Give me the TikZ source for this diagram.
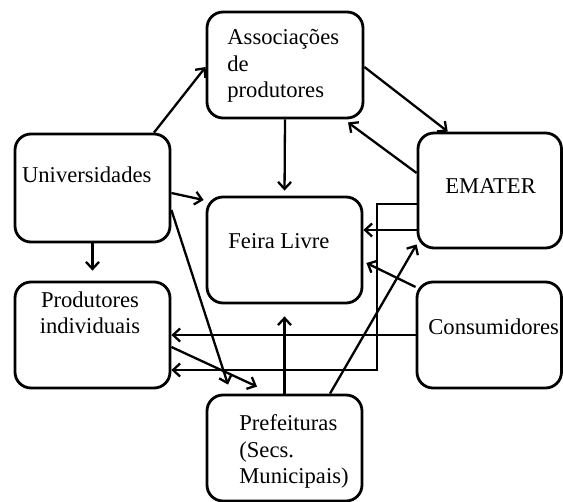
\documentclass[tikz,border=0pt]{standalone}
\usepackage{fontspec}
\setmainfont{Liberation Serif}
\usetikzlibrary{arrows.meta,calc,positioning}

\begin{document}
\begin{tikzpicture}[x=0.5pt, y=-0.5pt,
        box/.style={draw, line width=1.4pt, rounded corners=8pt, inner sep=0pt},
        txt/.style={inner sep=0pt, font=\fontsize{11.3}{13.4}\selectfont, align=left},
        arr/.style={line width=1.15pt, -{Straight Barb[length=3.5pt,width=6.5pt]}}]
    \useasboundingbox (0,0) rectangle (563,502);

    % caixas
    \node[box, minimum width=78pt, minimum height=53pt] (assoc) at (285,65) {};
    \node[box, minimum width=77.5pt, minimum height=54pt] (univ) at (92.5,188) {};
    \node[box, minimum width=71.75pt, minimum height=57.5pt] (emater) at (489.75,190.5) {};
    \node[box, minimum width=77.5pt, minimum height=53pt] (feira) at (284.5,250) {};
    \node[box, minimum width=77.5pt, minimum height=53pt] (prod) at (92.5,335) {};
    \node[box, minimum width=72.25pt, minimum height=53pt] (cons) at (489.25,335) {};
    \node[box, minimum width=77.5pt, minimum height=53pt] (pref) at (284.5,448) {};

    % textos (base = ultima linha)
    \node[txt, anchor=base west] (assoc-t) at (227,98) {Associações\\de\\produtores};
    \node[txt, anchor=base west] (univ-t) at (21.7,183) {Universidades};
    \node[txt, anchor=base west] (emater-t) at (445,194) {EMATER};
    \node[txt, anchor=base west] (feira-t) at (228,249) {Feira Livre};
    \node[txt, anchor=base, align=center] (prod-t) at (90,334) {Produtores\\individuais};
    \node[txt, anchor=base west] (cons-t) at (428,335) {Consumidores};
    \node[txt, anchor=base west] (pref-t) at (239,484) {Prefeituras\\(Secs.\\Municipais)};

    % ligacoes
    \coordinate (turn) at (377,370);
    \draw[arr] ($(univ.north)+(61.5,0)$) -- ($(assoc.west)+(0,2)$);
    \draw[arr] ($(assoc.east)+(0,2)$) -- ($(emater.north)+(-42,0)$);
    \draw[arr] ($(emater.west)+(0,-17.5)$) -- ($(assoc.south)+(63,3)$);
    \draw[arr, shorten >=2.5pt] (assoc.south) -- (feira.north);
    \draw[arr] ($(univ.east)+(0,5)$) -- ($(feira.west)+(-2,-50)$);
    \draw[arr] ($(univ.east)+(0,22)$) -- ($(pref.north)+(-56.5,-9)$);
    \draw[arr, shorten >=5pt] (univ.south) -- (prod.north);
    \draw[arr] ($(emater.west)+(0,39.5)$) -- ($(feira.east)+(0,-20)$);
    \draw[arr] ($(emater.west)+(0,13.5)$) -| (turn) -- (prod.east |- turn);
    \draw[arr] ($(cons.west)+(0,-48)$) -- ($(feira.east)+(3,13)$);
    \draw[arr] (cons.west) -- (prod.east);
    \draw[arr] ($(prod.east)+(0,12)$) -- ($(pref.north)+(-27.5,-7)$);
    \draw[arr, shorten >=6pt] (pref.north) -- (feira.south);
    \draw[arr] ($(pref.north)+(45.5,0)$) -- ($(emater.south west)+(0,-5)$);
\end{tikzpicture}
\end{document}
